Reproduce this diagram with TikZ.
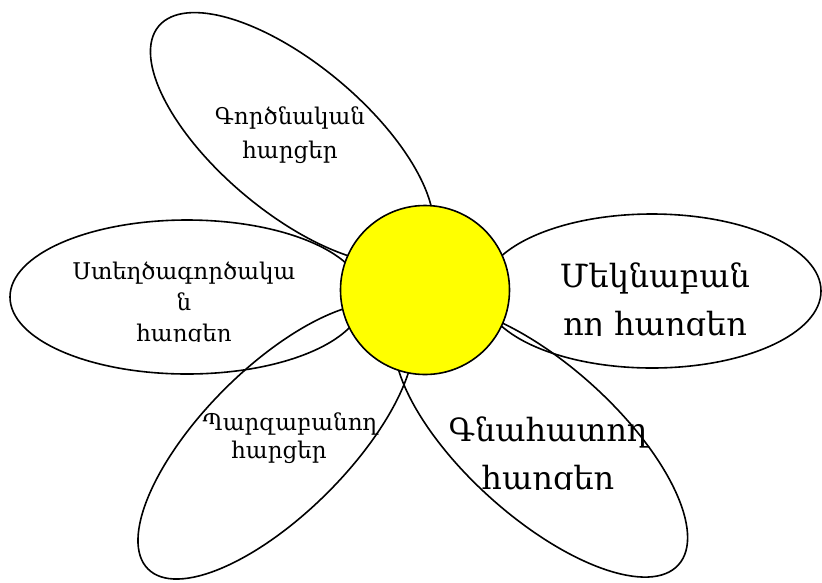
\documentclass[tikz,border=0pt]{standalone}
\usepackage{fontspec}
\newfontfamily\armfont{DejaVu Serif}
\definecolor{coreyellow}{RGB}{255,255,0}
\begin{document}
\begin{tikzpicture}[x=1pt,y=1pt,
  petal/.style={draw=black, line width=1.6pt},
  core/.style={draw=black, line width=1.6pt, fill=coreyellow},
  smalltext/.style={font=\armfont\fontsize{23}{28}\selectfont, anchor=base, inner sep=0pt},
  bigtext/.style={font=\armfont\fontsize{32}{40}\selectfont, anchor=base, inner sep=0pt}]
\useasboundingbox (0,0) rectangle (822,-582);
% petals
\draw[petal, rotate around={-40:(292,-138)}] (292,-138) ellipse [x radius=174, y radius=74];
\draw[petal] (187,-297) ellipse [x radius=177, y radius=77];
\draw[petal] (652,-291) ellipse [x radius=169, y radius=77];
\draw[petal, rotate around={-42:(541,-441)}] (541,-441) ellipse [x radius=185, y radius=76];
\draw[petal, rotate around={45:(276,-441)}] (276,-441) ellipse [x radius=181, y radius=73];
% centre
\node[core, circle, minimum size=169pt, inner sep=0pt] (centre) at (425,-290) {};
% texts
\node[smalltext] (t1a) at (290,-124) {Գործնական};
\node[smalltext] (t1b) at (290,-158) {հարցեր};
\node[smalltext] (t2a) at (184,-279) {Ստեղծագործակա};
\node[smalltext] (t2b) at (184,-310) {ն};
\begin{scope}
\clip (60,-341.5) rectangle (320,-300);
\node[smalltext] (t2c) at (184,-341) {հարցեր};
\end{scope}
\node[bigtext] (t3a) at (655,-287) {Մեկնաբան};
\begin{scope}
\clip (540,-335.5) rectangle (790,-290);
\node[bigtext] (t3b) at (655,-335) {ող հարցեր};
\end{scope}
\node[bigtext] (t4a) at (548,-441) {Գնահատող};
\begin{scope}
\clip (440,-489.5) rectangle (660,-450);
\node[bigtext] (t4b) at (548,-489) {հարցեր};
\end{scope}
\node[smalltext] (t5a) at (290,-430) {Պարզաբանող};
\node[smalltext] (t5b) at (279,-458) {հարցեր};
\end{tikzpicture}
\end{document}
